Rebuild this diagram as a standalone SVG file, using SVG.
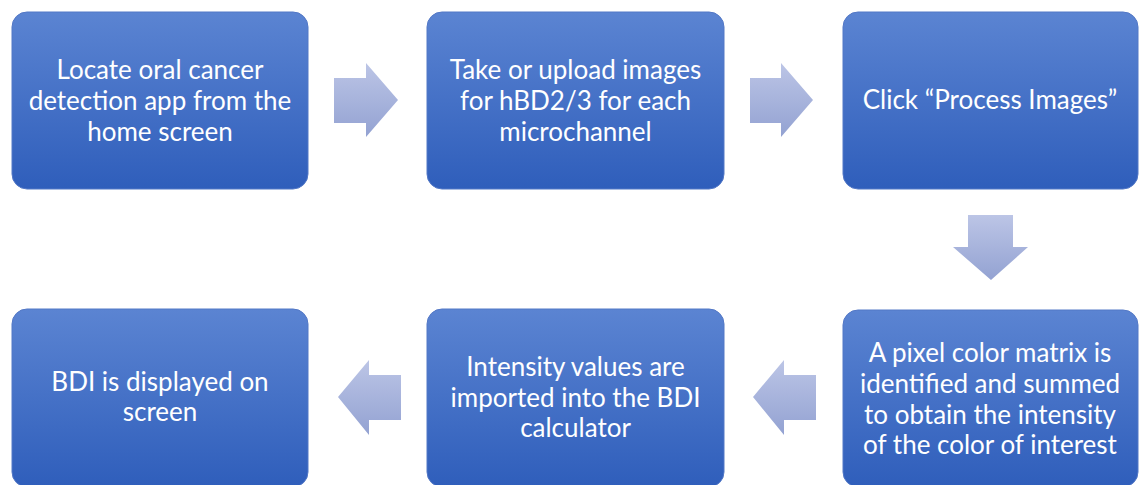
<svg xmlns="http://www.w3.org/2000/svg" width="1139" height="485" viewBox="0 0 1139 485">
<defs>
<linearGradient id="boxg" x1="0" y1="0" x2="0" y2="1">
<stop offset="0" stop-color="#5b84d2"/>
<stop offset="1" stop-color="#2f5ebb"/>
</linearGradient>
<linearGradient id="arrg" x1="0" y1="0" x2="0" y2="1">
<stop offset="0" stop-color="#bcc5e6"/>
<stop offset="1" stop-color="#93a2d2"/>
</linearGradient>
<style>
.box{fill:url(#boxg);stroke:#5378c6;stroke-width:1}
.arr{fill:url(#arrg)}
.t{font-family:Lato,"Noto Sans","Liberation Sans",sans-serif;font-size:26px;fill:#ffffff;text-anchor:middle}
</style>
</defs>
<g id="connectors">
<polygon class="arr" points="334,78 366,78 366,63 398,100 366,137 366,123 334,123"/>
<polygon class="arr" points="750,78 781,78 781,63 813,100 781,137 781,123 750,123"/>
<polygon class="arr" points="968,215 1013,215 1013,247 1028,247 991,280 953,247 968,247"/>
<polygon class="arr" points="401,375 369,375 369,360 338,397 369,435 369,420 401,420"/>
<polygon class="arr" points="816,375 784,375 784,360 753,397 784,435 784,420 816,420"/>
</g>
<g id="node1">
<rect class="box" x="12" y="12" width="296" height="177" rx="15"/>
<text class="t" x="160" y="79">Locate oral cancer</text>
<text class="t" x="160" y="110">detection app from the</text>
<text class="t" x="160" y="141">home screen</text>
</g>
<g id="node2">
<rect class="box" x="427" y="12" width="297" height="177" rx="15"/>
<text class="t" x="575.5" y="79">Take or upload images</text>
<text class="t" x="575.5" y="110">for hBD2/3 for each</text>
<text class="t" x="575.5" y="141">microchannel</text>
</g>
<g id="node3">
<rect class="box" x="843" y="12" width="295" height="177" rx="15"/>
<text class="t" x="990" y="109">Click “Process Images”</text>
</g>
<g id="node4">
<rect class="box" x="843" y="310" width="295" height="177" rx="15"/>
<text class="t" x="990" y="362">A pixel color matrix is</text>
<text class="t" x="990" y="393">identified and summed</text>
<text class="t" x="990" y="424">to obtain the intensity</text>
<text class="t" x="990" y="454">of the color of interest</text>
</g>
<g id="node5">
<rect class="box" x="427" y="309" width="297" height="178" rx="15"/>
<text class="t" x="575.5" y="376">Intensity values are</text>
<text class="t" x="575.5" y="407">imported into the BDI</text>
<text class="t" x="575.5" y="437">calculator</text>
</g>
<g id="node6">
<rect class="box" x="12" y="309" width="296" height="178" rx="15"/>
<text class="t" x="160" y="391">BDI is displayed on</text>
<text class="t" x="160" y="421">screen</text>
</g>
</svg>
